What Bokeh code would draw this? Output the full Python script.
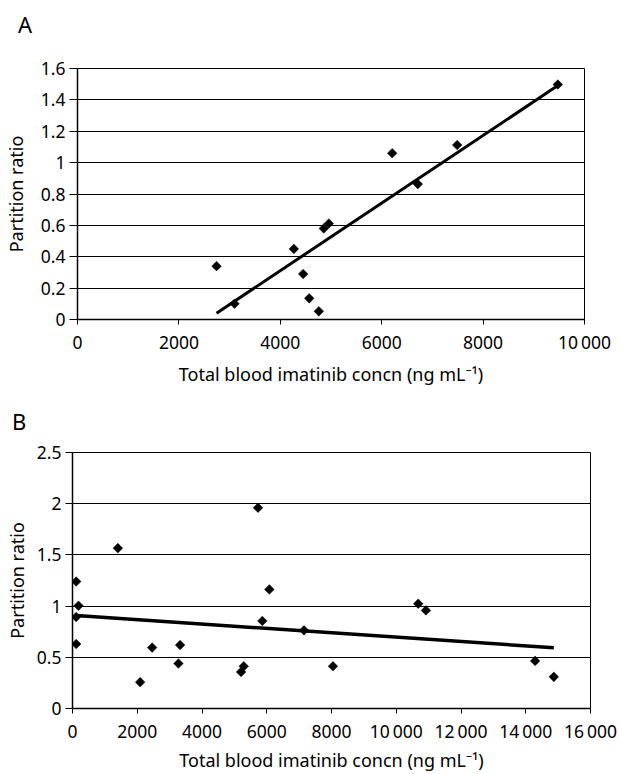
import numpy as np
from bokeh.plotting import figure
from bokeh.layouts import column
from bokeh.models import Range1d, FixedTicker, CustomJSTickFormatter, ColumnDataSource, Div
from bokeh.embed import file_html
from bokeh.resources import INLINE

# ---- data ----
a_conc = [2742, 3097, 4267, 4451, 4570, 4760, 4858, 4957, 6207, 6712, 7489, 9474]
a_ratio = [0.34, 0.10, 0.45, 0.29, 0.135, 0.052, 0.58, 0.612, 1.06, 0.863, 1.112, 1.498]

b_conc = [1401, 114, 185, 114, 114, 2460, 2090, 3324, 3272, 5207, 5290, 5864, 6080,
          7151, 8046, 5730, 10679, 10917, 14290, 14867]
b_ratio = [1.566, 1.24, 1.004, 0.894, 0.63, 0.595, 0.257, 0.62, 0.439, 0.357, 0.412, 0.855,
           1.163, 0.763, 0.412, 1.96, 1.023, 0.958, 0.465, 0.309]

a_xticks = [0, 2000, 4000, 6000, 8000, 10000]
a_yticks = [0, 0.2, 0.4, 0.6, 0.8, 1.0, 1.2, 1.4, 1.6]
b_xticks = [0, 2000, 4000, 6000, 8000, 10000, 12000, 14000, 16000]
b_yticks = [0, 0.5, 1.0, 1.5, 2.0, 2.5]

x_title = "Total blood imatinib concn (ng mL\u207b\u00b9)"
y_title = "Partition ratio"

FONT = "Noto Sans"
W = 618

fmt = CustomJSTickFormatter(code="""
const v = Math.round(tick*10)/10;
if (Math.abs(v) >= 10000) {
  const s = String(Math.round(v));
  return s.slice(0, s.length-3) + "\\u2009" + s.slice(-3);
}
return String(v);
""")


def make_panel(xs, ys, xticks, yticks, xmax, ymax, height, borders,
               line_w, tick_out, tick_standoff, title_standoff):
    p = figure(width=W, height=height, output_backend="svg", toolbar_location=None,
               x_range=Range1d(0, xmax), y_range=Range1d(0, ymax),
               min_border_left=borders[0], min_border_right=borders[1],
               min_border_top=borders[2], min_border_bottom=borders[3],
               frame_align=False)
    p.background_fill_color = "white"
    p.border_fill_color = "white"
    p.outline_line_color = "black"
    p.outline_line_width = 1
    p.xgrid.visible = False
    p.ygrid.grid_line_color = "black"
    p.ygrid.grid_line_width = 1
    p.xaxis.ticker = FixedTicker(ticks=xticks)
    p.yaxis.ticker = FixedTicker(ticks=yticks)
    for ax in (p.xaxis, p.yaxis):
        ax.formatter = fmt
        ax.axis_line_color = "black"
        ax.axis_line_width = 1.5
        ax.major_tick_line_color = "black"
        ax.major_tick_line_width = 1
        ax.major_tick_in = 0
        ax.minor_tick_line_color = None
        ax.major_label_text_font = FONT
        ax.major_label_text_font_size = "17.5px"
        ax.major_label_text_color = "black"
        ax.axis_label_text_font = FONT
        ax.axis_label_text_font_size = "18px"
        ax.axis_label_text_font_style = "normal"
        ax.axis_label_text_color = "black"
    p.xaxis.major_tick_out = tick_out[0]
    p.yaxis.major_tick_out = tick_out[1]
    p.xaxis.axis_label = x_title
    p.yaxis.axis_label = y_title
    p.xaxis.major_label_standoff = tick_standoff[0]
    p.yaxis.major_label_standoff = tick_standoff[1]
    p.xaxis.axis_label_standoff = title_standoff[0]
    p.yaxis.axis_label_standoff = title_standoff[1]

    # least-squares regression line fitted to the data
    slope, intercept = np.polyfit(xs, ys, 1)
    lx = np.array([min(xs), max(xs)])
    p.line(lx, slope * lx + intercept, line_color="black", line_width=line_w)

    src = ColumnDataSource(dict(x=xs, y=ys))
    p.scatter("x", "y", source=src, marker="square", angle=np.pi / 4, size=6.8,
              fill_color="black", line_color="black", line_width=0.5)
    return p


def letter_div(text, height, pad_top, pad_left):
    return Div(text=text, width=W, height=height, margin=0,
               styles={"font-family": FONT, "font-size": "22px", "line-height": "22px",
                       "color": "black", "padding-top": f"{pad_top}px",
                       "padding-left": f"{pad_left}px", "box-sizing": "border-box"})


divA = letter_div("A", 40, 13, 18)
pA = make_panel(a_conc, a_ratio, a_xticks, a_yticks, 10000, 1.6, 348,
                (77, W - 584, 28, 67), 3, (5, 8), (5, 4), (5, 10))
divB = letter_div("B", 42, 22, 12)
pB = make_panel(b_conc, b_ratio, b_xticks, b_yticks, 16000, 2.5, 344,
                (72, W - 590, 22, 65), 3.5, (5, 7), (5, 4), (2, 5))

layout = column(divA, pA, divB, pB)
open("out.html", "w").write(file_html(layout, INLINE))
